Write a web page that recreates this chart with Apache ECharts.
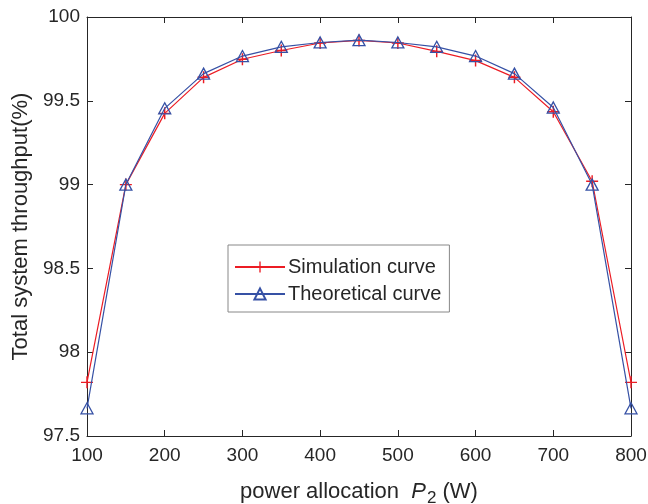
<!DOCTYPE html>
<html>
<head>
<meta charset="utf-8">
<script src="https://cdn.jsdelivr.net/npm/echarts@6/dist/echarts.min.js"></script>
<style>
    html,body{margin:0;padding:0;background:#fff;}
    #chart{width:648px;height:504px;}
</style>
</head>
<body>
<div id="chart"></div>
<script>
    // power allocation P2 (W)
    const powerP2=[100,150,200,250,300,350,400,450,500,550,600,650,700,750,800]
    const simulation=[97.82,99.0,99.425,99.64,99.748,99.80,99.845,99.86,99.845,99.795,99.74,99.64,99.435,99.02,97.82]
    const theoretical=[97.665,99.0,99.455,99.662,99.767,99.822,99.848,99.862,99.848,99.822,99.767,99.662,99.46,99.0,97.665]
    const seriesNames=['Simulation curve','Theoretical curve']

    const axisColor='#262626'
    const red='#ec1c24'
    const blue='#3651a5'
    const font='Liberation Sans'

    const pairs=(ys)=>powerP2.map((x,i)=>[x,ys[i]])

    const mychart=echarts.init(document.getElementById('chart'))
    mychart.setOption({
        animation:false,
        grid:{
            left:87,
            right:17,
            top:17,
            bottom:68,
            containLabel:false,
            outerBoundsMode:'none'
        },
        legend:{
            orient:'vertical',
            left:228,
            top:245,
            padding:[12,8,8,6],
            itemGap:7,
            itemWidth:50,
            itemHeight:14,
            borderColor:'#888',
            borderWidth:1,
            backgroundColor:'#fff',
            textStyle:{
                color:axisColor,
                fontSize:20,
                fontFamily:font,
                padding:[0,0,0,-2]
            },
            data:seriesNames
        },
        xAxis:[
            {
                type:'value',
                min:100,
                max:800,
                interval:100,
                name:'{a|power allocation  }{i|P}{s|2}{a| (W)}',
                nameLocation:'middle',
                nameGap:40,
                nameTextStyle:{
                    rich:{
                        a:{fontSize:22,fontFamily:font,color:axisColor},
                        i:{fontSize:22,fontFamily:font,fontStyle:'italic',color:axisColor},
                        s:{fontSize:17,fontFamily:font,color:axisColor,padding:[14,0,0,1]}
                    }
                },
                axisLine:{lineStyle:{color:axisColor,width:1}},
                axisTick:{inside:true,length:6,lineStyle:{color:axisColor}},
                axisLabel:{color:axisColor,fontSize:19,fontFamily:font,margin:10},
                splitLine:{show:false}
            },
            {
                type:'value',
                position:'top',
                min:100,
                max:800,
                interval:100,
                axisLine:{show:true,lineStyle:{color:axisColor,width:1}},
                axisTick:{inside:true,length:6,lineStyle:{color:axisColor}},
                axisLabel:{show:false},
                splitLine:{show:false}
            }
        ],
        yAxis:[
            {
                type:'value',
                min:97.5,
                max:100,
                interval:0.5,
                name:'Total system throughput(%)',
                nameLocation:'middle',
                nameGap:54,
                nameTextStyle:{color:axisColor,fontSize:22,fontFamily:font},
                axisLine:{show:true,lineStyle:{color:axisColor,width:1}},
                axisTick:{inside:true,length:6,lineStyle:{color:axisColor}},
                axisLabel:{color:axisColor,fontSize:19,fontFamily:font,margin:7},
                splitLine:{show:false}
            },
            {
                type:'value',
                position:'right',
                min:97.5,
                max:100,
                interval:0.5,
                axisLine:{show:true,lineStyle:{color:axisColor,width:1}},
                axisTick:{inside:true,length:6,lineStyle:{color:axisColor}},
                axisLabel:{show:false},
                splitLine:{show:false}
            }
        ],
        series:[
            {
                name:seriesNames[0],
                type:'line',
                data:pairs(simulation),
                symbol:'path://M4.4,0H5.6V10H4.4Z M0,4.4H10V5.6H0Z',
                symbolSize:12,
                itemStyle:{color:red},
                lineStyle:{color:red,width:1.2},
                z:2
            },
            {
                name:seriesNames[1],
                type:'line',
                data:pairs(theoretical),
                symbol:'triangle',
                symbolSize:[12,11],
                itemStyle:{color:'rgba(255,255,255,0)',borderColor:blue,borderWidth:1.3},
                lineStyle:{color:blue,width:1.2},
                z:3
            }
        ]
    })
</script>
</body>
</html>
